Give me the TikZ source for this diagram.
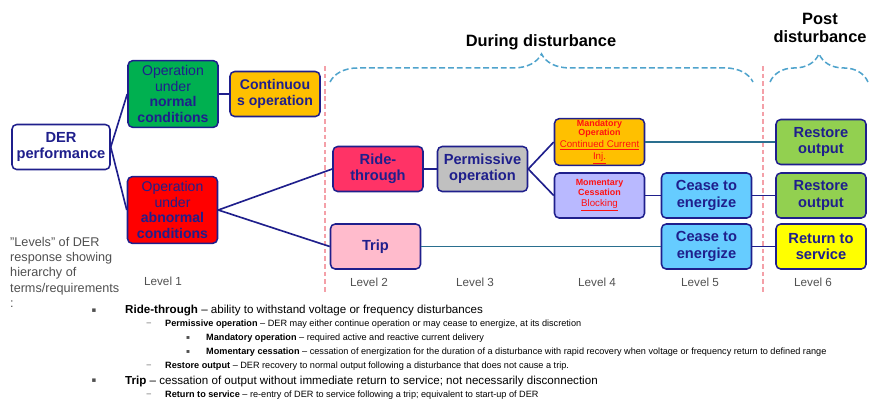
\documentclass[tikz,border=0pt]{standalone}
\usepackage{fontspec}
\setmainfont{Liberation Sans}
\newfontfamily\symfont{DejaVu Sans}
\usepackage{xcolor}
\usepackage{tikz}
\usetikzlibrary{positioning, decorations.pathreplacing}
\definecolor{dernavy}{HTML}{1F1F8C}
\definecolor{normalgreen}{HTML}{00B050}
\definecolor{contorange}{HTML}{FFC000}
\definecolor{abnormalred}{HTML}{FF0000}
\definecolor{ridecolor}{HTML}{FF3366}
\definecolor{permgray}{HTML}{C0C0C0}
\definecolor{momlav}{HTML}{B9B9FF}
\definecolor{tripcolor}{HTML}{FFBBCC}
\definecolor{ceaseblue}{HTML}{66CCFF}
\definecolor{restoregreen}{HTML}{92D050}
\definecolor{returnyellow}{HTML}{FFFF00}
\definecolor{linkteal}{HTML}{2A6F8F}
\definecolor{bracecolor}{HTML}{4FA3CC}
\definecolor{dividerpink}{HTML}{F4A0A8}
\definecolor{levelgray}{HTML}{505050}
\definecolor{notered}{HTML}{FF1010}
\newcommand{\noteline}[1]{{\fontsize{8.3}{9.5}\selectfont\mdseries\underline{#1}}}

\begin{document}
\begin{tikzpicture}[
  x=0.3mm, y=-0.3mm,
  stage/.style={
    rectangle,
    rounded corners=4pt,
    draw=dernavy,
    line width=1.3pt,
    minimum width=2.7cm,
    minimum height=1.35cm,
    inner sep=1pt,
    align=center,
    font=\fontsize{12.5}{14}\selectfont\bfseries,
    text=dernavy
  },
  condition/.style={stage, minimum height=2cm, font=\fontsize{12}{13.6}\selectfont},
  small/.style={stage, text=notered, font=\fontsize{7.6}{8}\selectfont\bfseries},
  link/.style={dernavy, line width=1.4pt},
  slink/.style={linkteal, line width=1pt},
  level/.style={font=\fontsize{10}{12}\selectfont, text=levelgray},
  phase/.style={font=\fontsize{14}{16}\selectfont\bfseries, align=center},
  phasebrace/.style={decorate, decoration={brace, amplitude=24pt}, draw=bracecolor,
    dash pattern=on 5pt off 2.5pt, line width=1.3pt},
  divider/.style={draw=dividerpink, dash pattern=on 4pt off 2.5pt, line width=1pt},
  bigitem/.style={anchor=west, inner sep=0pt, font=\fontsize{9.9}{11}\selectfont},
  smallitem/.style={anchor=west, inner sep=0pt, font=\fontsize{7.8}{9}\selectfont},
  itemmark/.style={inner sep=0pt, text=levelgray}
]
  \useasboundingbox (0,0) rectangle (873,405);

  % Phase dividers and braces
  \draw[divider] (325,66) -- (325,292);
  \draw[divider] (763,66) -- (763,292);
  \draw[phasebrace] (330,82) -- (753,82);
  \draw[phasebrace] (770,82) -- (868,82);
  \node[phase] (during) at (541,42) {During disturbance};
  \node[phase] (post) at (820,28) {Post\\disturbance};

  % Level 1
  \node[stage, fill=white, minimum width=2.94cm] (der) at (61,147) {DER\\performance};
  \node[condition, fill=normalgreen] (normal) at (173,94) {Operation\\under\\\textbf{normal}\\\textbf{conditions}};
  \node[stage, fill=contorange, font=\fontsize{12}{14}\selectfont\bfseries] (cont) at (275,94) {Continuou\\s operation};
  \node[condition, fill=abnormalred] (abnormal) at (172.5,210) {Operation\\under\\\textbf{abnormal}\\\textbf{conditions}};

  % Levels 2 to 4
  \node[stage, fill=ridecolor] (ride) at (378,169) {Ride-\\through};
  \node[stage, fill=permgray] (perm) at (482.5,169) {Permissive\\operation};
  \node[small, fill=contorange] (mand) at (599.5,142) {Mandatory\\Operation\\[2pt]\noteline{Continued Current}\\[1.5pt]\noteline{Inj.}};
  \node[small, fill=momlav] (mom) at (599.5,195.5) {Momentary\\Cessation\\[2pt]\noteline{Blocking}};
  \node[stage, fill=tripcolor] (trip) at (375.5,246.5) {Trip};

  % Levels 5 and 6
  \node[stage, fill=ceaseblue] (cease1) at (706.5,195.5) {Cease to\\energize};
  \node[stage, fill=ceaseblue] (cease2) at (706.5,246.5) {Cease to\\energize};
  \node[stage, fill=restoregreen] (rest1) at (821,142) {Restore\\output};
  \node[stage, fill=restoregreen] (rest2) at (821,195.5) {Restore\\output};
  \node[stage, fill=returnyellow] (ret) at (821,246.5) {Return to\\service};

  % Connectors
  \draw[link] (der.east) -- (normal.west);
  \draw[link] (der.east) -- (abnormal.west);
  \draw[link] (normal.east) -- (cont.west);
  \draw[link] (abnormal.east) -- (ride.west);
  \draw[link] (abnormal.east) -- (trip.west);
  \draw[link] (ride.east) -- (perm.west);
  \draw[link] (perm.east) -- (mand.west);
  \draw[link] (perm.east) -- (mom.west);
  \draw[link] (mom.east) -- (cease1.west);
  \draw[link] (cease1.east) -- (rest2.west);
  \draw[link] (cease2.east) -- (ret.west);
  \draw[slink] (mand.east) -- (rest1.west);
  \draw[slink] (trip.east) -- (cease2.west);

  % Level labels
  \node[level] (lev1) at (163,281) {Level 1};
  \node[level] (lev2) at (369,282) {Level 2};
  \node[level] (lev3) at (475,282) {Level 3};
  \node[level] (lev4) at (597,282) {Level 4};
  \node[level] (lev5) at (700,282) {Level 5};
  \node[level] (lev6) at (813,282) {Level 6};

  % Legend
  \node[anchor=north west, inner sep=0pt, align=left, text=levelgray,
        font=\fontsize{10.8}{13}\selectfont] (legend) at (10,237)
    {"Levels" of DER\\response showing\\hierarchy of\\terms/requirements\\:};

  % Definitions
  \node[itemmark, font=\symfont\fontsize{6}{7}\selectfont] (m1) at (94,311) {▪};
  \node[bigitem] (d1) at (125,311) {\textbf{Ride-through} – ability to withstand voltage or frequency disturbances};
  \node[itemmark, font=\fontsize{7}{8}\selectfont] (m2) at (149,324) {–};
  \node[smallitem] (d2) at (165,324) {\textbf{Permissive operation} – DER may either continue operation or may cease to energize, at its discretion};
  \node[itemmark, font=\symfont\fontsize{5}{6}\selectfont] (m3) at (188,338) {▪};
  \node[smallitem] (d3) at (206,338) {\textbf{Mandatory operation} – required active and reactive current delivery};
  \node[itemmark, font=\symfont\fontsize{5}{6}\selectfont] (m4) at (188,352) {▪};
  \node[smallitem] (d4) at (206,352) {\textbf{Momentary cessation} – cessation of energization for the duration of a disturbance with rapid recovery when voltage or frequency return to defined range};
  \node[itemmark, font=\fontsize{7}{8}\selectfont] (m5) at (149,366) {–};
  \node[smallitem] (d5) at (165,366) {\textbf{Restore output} – DER recovery to normal output following a disturbance that does not cause a trip.};
  \node[itemmark, font=\symfont\fontsize{6}{7}\selectfont] (m6) at (94,381) {▪};
  \node[bigitem] (d6) at (125,381) {\textbf{Trip} – cessation of output without immediate return to service; not necessarily disconnection};
  \node[itemmark, font=\fontsize{7}{8}\selectfont] (m7) at (149,395) {–};
  \node[smallitem] (d7) at (165,395) {\textbf{Return to service} – re-entry of DER to service following a trip; equivalent to start-up of DER};
\end{tikzpicture}
\end{document}
